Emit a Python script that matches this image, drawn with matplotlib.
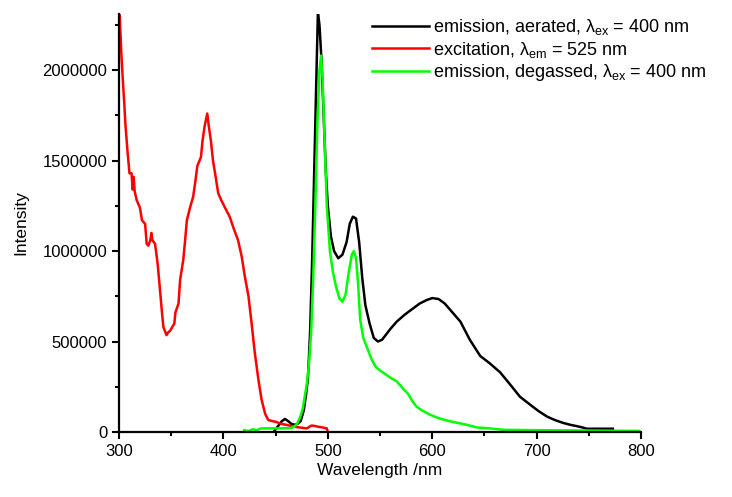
import matplotlib
matplotlib.use("Agg")
import matplotlib.pyplot as plt
from matplotlib.ticker import MultipleLocator

plt.rcParams["font.family"] = ["Liberation Sans", "DejaVu Sans"]
plt.rcParams["mathtext.fontset"] = "custom"
plt.rcParams["mathtext.rm"] = "Liberation Sans"
plt.rcParams["mathtext.it"] = "Liberation Sans"

# excitation, lambda_em = 525 nm (red)
ex_wl = [300, 301, 302.5, 304, 305, 306, 308, 310, 312, 313, 314, 315, 317, 320,
         322, 325, 326.5, 328, 330, 331, 332, 334.5, 337, 339, 341, 342.5, 345.5,
         347, 349, 351, 353, 354, 357, 358.5, 361.5, 363, 365, 368, 371, 373, 375,
         378.5, 380, 382, 384.5, 386, 388, 390, 392, 395, 398, 401.5, 406, 409.5,
         414, 417.5, 420.5, 424, 427, 430, 433.5, 436.5, 440, 443, 447, 451, 455,
         460, 467, 473, 480, 484, 486, 490, 495, 499, 500]
ex_int = [2.40, 2.25, 2.06, 1.91, 1.82, 1.71, 1.56, 1.43, 1.43, 1.34, 1.41, 1.33,
          1.28, 1.24, 1.17, 1.15, 1.04, 1.03, 1.06, 1.10, 1.06, 1.04, 0.93, 0.80,
          0.67, 0.58, 0.535, 0.55, 0.56, 0.58, 0.60, 0.66, 0.71, 0.84, 0.95, 1.04,
          1.17, 1.24, 1.30, 1.38, 1.47, 1.52, 1.61, 1.69, 1.76, 1.69, 1.61, 1.50,
          1.43, 1.32, 1.28, 1.24, 1.19, 1.13, 1.06, 0.97, 0.86, 0.75, 0.60, 0.44,
          0.29, 0.18, 0.10, 0.066, 0.06, 0.055, 0.045, 0.04, 0.03, 0.025, 0.02,
          0.035, 0.035, 0.03, 0.025, 0.02, 0.0]

# emission, aerated, lambda_ex = 400 nm (black)
ae_wl = [448, 452, 456, 459, 462, 465, 468, 471, 474, 477, 479, 481, 483, 485, 487,
         489, 490.5, 492, 494, 496, 498, 500, 503, 506, 510, 514, 518, 521, 524,
         527, 530, 533, 536, 540, 544, 548, 552, 556, 560, 566, 574, 581, 588, 595,
         600, 606, 612, 618, 627, 636, 646, 655, 665, 675, 684, 694, 702, 710, 718,
         725, 732, 738, 744, 748, 760, 773]
ae_int = [0.0, 0.03, 0.06, 0.072, 0.06, 0.045, 0.04, 0.045, 0.06, 0.12, 0.2, 0.3,
          0.55, 0.95, 1.45, 1.95, 2.32, 2.25, 2.05, 1.75, 1.45, 1.25, 1.08, 1.0,
          0.96, 0.98, 1.05, 1.15, 1.19, 1.18, 1.05, 0.85, 0.7, 0.6, 0.52, 0.50,
          0.51, 0.54, 0.57, 0.61, 0.65, 0.68, 0.71, 0.73, 0.74, 0.735, 0.71, 0.67,
          0.61, 0.51, 0.42, 0.38, 0.33, 0.26, 0.195, 0.15, 0.115, 0.085, 0.065,
          0.051, 0.04, 0.033, 0.025, 0.018, 0.018, 0.018]

# emission, degassed, lambda_ex = 400 nm (green)
dg_wl = [420, 424, 428, 432, 436, 445, 455, 465, 468, 471, 474, 476, 478, 480, 482,
         484, 486, 488, 490, 492, 493.5, 495, 497, 499, 502, 505, 508, 511, 514,
         517, 520, 523, 525, 527, 529, 531, 534, 538, 542, 546, 550, 555, 560, 566,
         572, 577, 581, 585, 590, 598, 607, 615, 623, 633, 643, 655, 668, 700, 750,
         798, 800]
dg_int = [0.01, 0.005, 0.015, 0.01, 0.02, 0.02, 0.02, 0.022, 0.03, 0.05, 0.09, 0.13,
          0.2, 0.27, 0.38, 0.55, 0.85, 1.25, 1.7, 2.0, 2.08, 1.95, 1.6, 1.25, 1.0,
          0.88, 0.8, 0.74, 0.72, 0.76, 0.88, 0.98, 1.0, 0.96, 0.82, 0.62, 0.52,
          0.46, 0.40, 0.36, 0.34, 0.32, 0.30, 0.28, 0.24, 0.21, 0.17, 0.14, 0.12,
          0.095, 0.075, 0.062, 0.052, 0.04, 0.025, 0.02, 0.012, 0.01, 0.008, 0.006,
          0.0]

scale = 1e6

fig = plt.figure(figsize=(7.32, 4.97), dpi=100)
ax = fig.add_axes([0.1626, 0.1308, 0.7131, 0.8410])

ax.plot(ae_wl, [v * scale for v in ae_int], color="black", lw=1.8,
        label=r"emission, aerated, $\lambda_{\rm ex}$ = 400 nm")
ax.plot(ex_wl, [v * scale for v in ex_int], color="#ff0000", lw=1.8,
        label=r"excitation, $\lambda_{\rm em}$ = 525 nm")
ax.plot(dg_wl, [v * scale for v in dg_int], color="#00ff00", lw=1.8,
        label=r"emission, degassed, $\lambda_{\rm ex}$ = 400 nm")

ax.set_xlim(300, 800)
ax.set_ylim(0, 2.31e6)
ax.xaxis.set_major_locator(MultipleLocator(100))
ax.xaxis.set_minor_locator(MultipleLocator(50))
ax.yaxis.set_major_locator(MultipleLocator(500000))
ax.yaxis.set_minor_locator(MultipleLocator(250000))
ax.ticklabel_format(axis="y", style="plain", useOffset=False)

for side in ("top", "right"):
    ax.spines[side].set_visible(False)
for side in ("left", "bottom"):
    ax.spines[side].set_linewidth(1.6)
ax.tick_params(which="major", direction="out", length=5, width=1.5, labelsize=12)
ax.tick_params(which="minor", direction="out", length=3, width=1.5)

ax.set_xlabel("Wavelength /nm", fontsize=12.5, labelpad=3)
ax.set_ylabel("Intensity", fontsize=12.5, labelpad=10)

ax.legend(loc="upper left", bbox_to_anchor=(0.47, 1.01), frameon=False,
          fontsize=13, handlelength=3.2, handletextpad=0.2, labelspacing=0.15,
          borderaxespad=0)

fig.savefig("out.png", dpi=100)
